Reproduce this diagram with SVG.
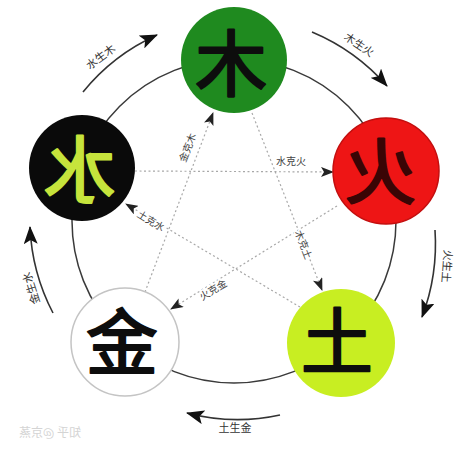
<svg xmlns="http://www.w3.org/2000/svg" width="474" height="453" viewBox="0 0 474 453">
<style>
.ring{fill:none;stroke:#3a3a3a;stroke-width:1.5}
.gen{fill:none;stroke:#333;stroke-width:1.6;marker-end:url(#big)}
.ke{fill:none;stroke:#a8a8a8;stroke-width:1.2;stroke-dasharray:2 2.5;marker-end:url(#small)}
.lbl{font-family:"Noto Sans CJK SC","Noto Sans CJK TC",sans-serif;font-size:11px;fill:#333;text-anchor:middle}
.ilbl{font-family:"Noto Sans CJK SC","Noto Sans CJK TC",sans-serif;font-size:10px;fill:#444;text-anchor:middle;stroke:#fff;stroke-width:3;paint-order:stroke}
.glyph{font-family:"Noto Sans CJK SC","Noto Sans CJK TC",sans-serif;font-size:72px;font-weight:400;text-anchor:middle;stroke-width:2.2;stroke-linejoin:round}
.wm{font-family:"Noto Sans CJK SC",sans-serif;font-size:12px;fill:#d4d4d4;text-anchor:middle}
</style>
<defs>
<marker id="big" viewBox="0 0 18 14" refX="17" refY="7" markerWidth="18" markerHeight="14" markerUnits="userSpaceOnUse" orient="auto">
<path d="M0,0 L18,7 L0,14 L4,7 z" fill="#111"/>
</marker>
<marker id="small" viewBox="0 0 13 10" refX="12" refY="5" markerWidth="13" markerHeight="10" markerUnits="userSpaceOnUse" orient="auto">
<path d="M0,0 L13,5 L0,10 L3,5 z" fill="#222"/>
</marker>
</defs>
<rect width="474" height="453" fill="#fff"/>
<circle class="ring" cx="234" cy="221" r="162"/>
<g id="connectors">
<path class="gen" d="M83,92 A202,202 0 0 1 157,35"/>
<path class="gen" d="M312,32 A205,205 0 0 1 387,86"/>
<path class="gen" d="M435,230 A205,205 0 0 1 422,317"/>
<path class="gen" d="M280,415 A198,198 0 0 1 187,413"/>
<path class="gen" d="M53,313 A204,204 0 0 1 30,227"/>
<path class="ke" d="M252,113 L322,290"/>
<path class="ke" d="M135,171 L333,172"/>
<path class="ke" d="M337,206 L171,309"/>
<path class="ke" d="M300,307 L126,204"/>
<path class="ke" d="M145,292 L213,113"/>
<text class="lbl" transform="translate(103,60) rotate(-37)">水生木</text>
<text class="lbl" transform="translate(357,48) rotate(34)">木生火</text>
<text class="lbl" transform="translate(443,266) rotate(94)">火生土</text>
<text class="lbl" transform="translate(235,432)">土生金</text>
<text class="lbl" transform="translate(35,287) rotate(-108)">金生水</text>
<text class="ilbl" transform="translate(191,149) rotate(-69)">金克木</text>
<text class="ilbl" transform="translate(291,165)">水克火</text>
<text class="ilbl" transform="translate(300,246) rotate(68)">木克土</text>
<text class="ilbl" transform="translate(215,293) rotate(-31)">火克金</text>
<text class="ilbl" transform="translate(149,224) rotate(31)">土克水</text>
</g>
<g id="wood">
<circle cx="234" cy="60" r="53" fill="#1f8a1f"/>
<g transform="translate(231,64) scale(-1,1)"><text class="glyph" x="0" y="26" fill="#0d0d0d" stroke="#0d0d0d">木</text></g>
</g>
<g id="fire">
<circle cx="386" cy="171" r="53" fill="#ee1515" stroke="#c40e0e" stroke-width="1.5"/>
<g transform="translate(381,172) scale(-1,1)"><text class="glyph" x="0" y="26" fill="#3a0505" stroke="#3a0505">火</text></g>
</g>
<g id="earth">
<circle cx="341" cy="343" r="54" fill="#c8ee22"/>
<g transform="translate(337,342) scale(-1,1)"><text class="glyph" x="0" y="26" fill="#0d0d0d" stroke="#0d0d0d">土</text></g>
</g>
<g id="metal">
<circle cx="125" cy="342" r="54" fill="#fff" stroke="#c4c4c4" stroke-width="1.5"/>
<g transform="translate(122,343) scale(-1,1)"><text class="glyph" x="0" y="26" fill="#0d0d0d" stroke="#0d0d0d">金</text></g>
</g>
<g id="water">
<circle cx="82" cy="168" r="53" fill="#0a0a0a"/>
<g transform="translate(80,170) scale(-1,1)"><text class="glyph" x="0" y="26" fill="#c6e43c" stroke="#c6e43c">水</text></g>
</g>
<g id="watermark" transform="translate(50,437) scale(-1,1)"><text class="wm" x="0" y="0">知乎 @京蒸</text></g>
</svg>
